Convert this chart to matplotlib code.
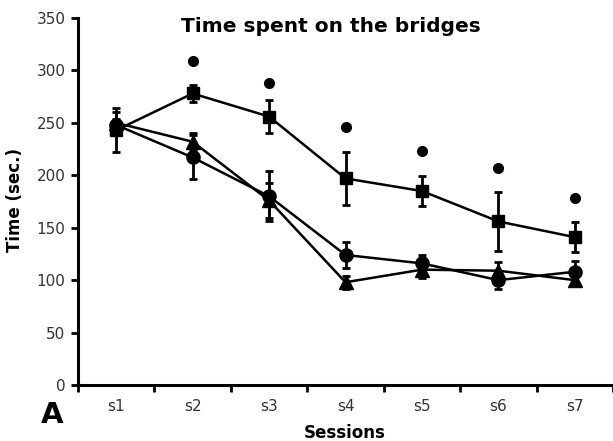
import matplotlib
matplotlib.use("Agg")
import matplotlib.pyplot as plt
import numpy as np

sessions = ["s1", "s2", "s3", "s4", "s5", "s6", "s7"]
square_mean = [243, 278, 256, 197, 185, 156, 141]
square_err = [21, 8, 16, 25, 14, 28, 14]
circle_mean = [248, 217, 180, 124, 116, 100, 108]
circle_err = [6, 21, 24, 12, 8, 8, 10]
triangle_mean = [250, 232, 176, 98, 110, 109, 100]
triangle_err = [10, 8, 17, 6, 8, 8, 5]
signif_y = [None, 309, 288, 246, 223, 207, 178]
y_ticks = [0, 50, 100, 150, 200, 250, 300, 350]

fig = plt.figure(figsize=(6.13, 4.41), dpi=100)
ax = fig.add_axes([78/613, 56/441, 1 - 78/613, (385-18)/441])

x = np.arange(1, len(sessions) + 1)
common = dict(color="black", lw=1.8, elinewidth=2, capsize=3, capthick=2)
ax.errorbar(x, square_mean, yerr=square_err, marker="s", ms=9, **common)
ax.errorbar(x, circle_mean, yerr=circle_err, marker="o", ms=9.5, **common)
ax.errorbar(x, triangle_mean, yerr=triangle_err, marker="^", ms=10, **common)

sx = [xi for xi, s in zip(x, signif_y) if s is not None]
sy = [s for s in signif_y if s is not None]
ax.plot(sx, sy, "o", color="black", ms=7, ls="none")

ax.set_xlim(0.5, 7.478)
ax.set_ylim(0, 350)
ax.set_yticks(y_ticks)
ax.set_xticks(np.arange(0.5, 8.0, 1.0))
ax.set_xticklabels([])
ax.set_xticks(x, minor=True)
ax.set_xticklabels(sessions, minor=True)
ax.tick_params(axis="x", which="minor", length=0, pad=10, labelsize=11, labelcolor="#333333")
ax.tick_params(axis="x", which="major", length=5, width=2, direction="out")
ax.tick_params(axis="y", length=5, width=2, direction="out", labelsize=11, labelcolor="#333333", pad=4)

for s in ["top", "right"]:
    ax.spines[s].set_visible(False)
for s in ["left", "bottom"]:
    ax.spines[s].set_linewidth(2.2)

fig.text(331/613, 1 - 26/441, "Time spent on the bridges", ha="center", va="center",
         fontsize=14.5, fontweight="bold")
fig.text(15/613, 1 - 200/441, "Time (sec.)", ha="center", va="center", rotation=90,
         fontsize=12, fontweight="bold")
fig.text(345/613, 1 - 433/441, "Sessions", ha="center", va="center",
         fontsize=12, fontweight="bold")
fig.text(52/613, 1 - 415/441, "A", ha="center", va="center",
         fontsize=21, fontweight="bold")

fig.savefig("out.png", dpi=100)
